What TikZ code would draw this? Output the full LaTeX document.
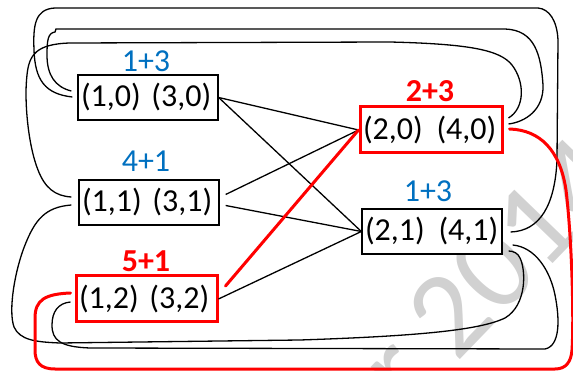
\documentclass[tikz,border=0pt]{standalone}
\usepackage{fontspec}
\setmainfont{Carlito}
\usetikzlibrary{calc}
\definecolor{lblblue}{RGB}{0,112,192}
\begin{document}
\begin{tikzpicture}[x=1pt,y=-1pt,
  vbox/.style={draw=black, line width=1.3pt, fill=white, minimum height=45pt,
    inner xsep=3pt, inner ysep=0pt, align=left, font=\fontsize{32}{38}\selectfont},
  hot/.style={draw=red, line width=3pt},
  cnt/.style={anchor=base, inner sep=0pt},
  cold/.style={cnt, text=lblblue, font=\fontsize{32}{38}\selectfont},
  warm/.style={cnt, text=red, font=\fontsize{32}{38}\selectfont\bfseries},
  link/.style={draw=black, line width=1.3pt},
  redlink/.style={draw=red, line width=3pt, line cap=round},
  wmark/.style={text=black!18, inner sep=0pt, font=\fontsize{122}{122}\selectfont},
]
\useasboundingbox (0,0) rectangle (573,371);

% faint watermark behind everything
\node[wmark, rotate=46, anchor=base west] (wm) at (363,460) {or 2014};

% vertex boxes
\node[vbox, text width=134pt] (A) at (148,97.5) {(1,0) (3,0)};
\node[vbox, text width=134pt] (B) at (149,202.5) {(1,1) (3,1)};
\node[vbox, hot, text width=135pt, minimum height=46pt] (C) at (146.5,299) {(1,2) (3,2)};
\node[vbox, hot, text width=136pt, minimum height=46pt] (D) at (431,130) {(2,0)\hspace{3pt} (4,0)};
\node[vbox, text width=134pt] (E) at (432,231.5) {(2,1)\hspace{3pt} (4,1)};

% sums above the boxes
\node[cold] (lA) at (146,72) {1+3};
\node[cold] (lB) at (146,172) {4+1};
\node[warm] (lC) at (146,272) {5+1};
\node[warm] (lD) at (430,102) {2+3};
\node[cold] (lE) at (428,202) {1+3};

% loop end points beside the boxes
\coordinate (a1) at ($(A.west)+(-6,-6.5)$);
\coordinate (a2) at ($(A.west)+(-5,-0.5)$);
\coordinate (b1) at ($(B.west)+(-7,-5.5)$);
\coordinate (b2) at ($(B.west)+(-7,2.5)$);
\coordinate (c1) at ($(C.west)+(-4,-6)$);
\coordinate (c2) at ($(C.west)+(-4,3)$);
\coordinate (d1) at ($(D.east)+(5,-12)$);
\coordinate (d2) at ($(D.east)+(5,-6)$);
\coordinate (d3) at ($(D.east)+(6,-1)$);
\coordinate (e1) at ($(E.east)+(8,0.5)$);
\coordinate (e2) at ($(E.east)+(10,13.5)$);
\coordinate (e3) at ($(E.east)+(6,19.5)$);

% straight edges between the columns
\draw[link] (A.east) -- (D.west);
\draw[link] (A.east) -- (E.west);
\draw[link] ($(B.east)+(6,-8)$) -- (D.west);
\draw[link] ($(B.east)+(6,3)$) -- (E.west);
\draw[link] (C.east) -- (E.west);
\draw[redlink] ($(C.east)+(7,-13)$) -- (D.west);

% wrap-around edges
\draw[link] (a2) .. controls (45,94) and (35,80) .. (34,50)
  .. controls (33,25) and (35,9) .. (55,8) -- (538,8)
  .. controls (549,9) and (557,20) .. (558,40) -- (557,160)
  .. controls (555,205) and (540,231) .. (e1);
\draw[link] (a1) .. controls (55,87) and (47,75) .. (47,55)
  .. controls (47,40) and (48,33) .. (55,32) -- (56,29) -- (505,29)
  .. controls (535,30) and (541,55) .. (543,85)
  .. controls (544,110) and (525,122) .. (d2);
\draw[link] (b1) .. controls (55,196) and (45,188) .. (38,170)
  .. controls (28,145) and (24,100) .. (27,75)
  .. controls (29,55) and (36,44) .. (70,43) -- (390,42)
  .. controls (470,44) and (500,50) .. (512,65)
  .. controls (525,82) and (525,108) .. (d1);
\draw[link] (b2) .. controls (45,207) and (35,220) .. (25,245)
  .. controls (15,270) and (8,310) .. (14,327)
  .. controls (20,340) and (35,342) .. (60,343) -- (300,340)
  .. controls (420,336) and (480,330) .. (505,318)
  .. controls (527,305) and (526,270) .. (520,258)
  .. controls (518,253) and (513,251) .. (e3);
\draw[link] (c2) .. controls (58,303) and (52,312) .. (52,325)
  .. controls (52,340) and (60,347) .. (90,348) -- (545,349)
  .. controls (560,346) and (560,320) .. (555,295)
  .. controls (550,270) and (535,247) .. (e2);
\draw[redlink] (d3) .. controls (540,130) and (560,150) .. (566,190)
  .. controls (572,240) and (574,320) .. (572,350)
  .. controls (571,362) and (566,369) .. (555,369) -- (55,369)
  .. controls (40,369) and (35,362) .. (35,350) -- (35,318)
  .. controls (35,300) and (45,294) .. (c1);
\end{tikzpicture}
\end{document}
